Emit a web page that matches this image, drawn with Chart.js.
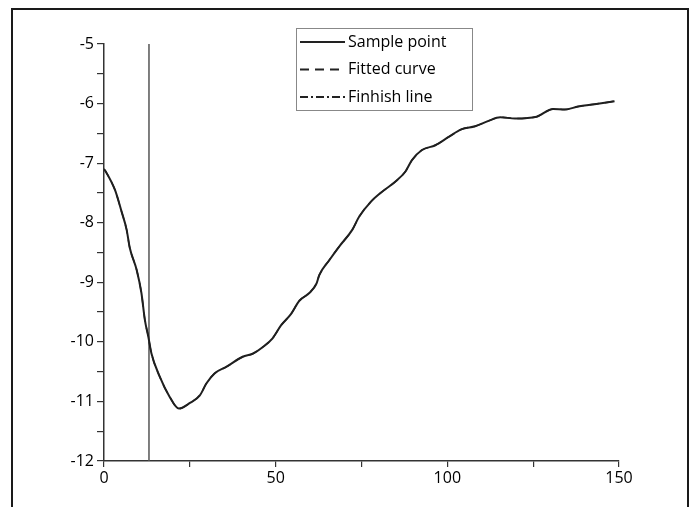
<!DOCTYPE html>
<html>
<head>
<meta charset="utf-8">
<script src="https://cdn.jsdelivr.net/npm/chart.js@4.4.0/dist/chart.umd.min.js"></script>
<style>
  html, body { margin: 0; padding: 0; background: #fff; }
  #wrap { width: 691px; height: 507px; }
</style>
</head>
<body>
<div id="wrap"><canvas id="myChart" width="691" height="507"></canvas></div>
<script>
// values
const sampleX = [0, 0.5, 3.2, 5.1, 6.6, 7.5, 9.5, 10.9, 11.9, 12.9, 13.8, 16.2, 19.1, 21.8, 24.9, 27.9, 29.8, 32.2, 35.6, 40.4,
  43.3, 46.2, 49.1, 51.6, 54.5, 56.9, 59.8, 61.9, 62.7, 65.6, 68.5, 72.3, 74.3, 77.7, 81.0, 84.9, 87.8, 89.7, 92.6, 96.5,
  100.4, 104.2, 108.1, 112.0, 115.4, 119.7, 126.0, 130.8, 134.2, 138.1, 142.9, 148.7];
const sampleY = [-7.1, -7.14, -7.45, -7.81, -8.12, -8.42, -8.79, -9.18, -9.63, -9.91, -10.19, -10.58, -10.92, -11.12, -11.03, -10.9, -10.7, -10.53, -10.42, -10.25,
  -10.2, -10.09, -9.94, -9.72, -9.53, -9.31, -9.18, -9.02, -8.88, -8.63, -8.4, -8.12, -7.9, -7.65, -7.48, -7.31, -7.14, -6.95, -6.78, -6.7,
  -6.56, -6.43, -6.38, -6.29, -6.23, -6.25, -6.22, -6.09, -6.1, -6.05, -6.01, -5.96];
const finishX = [13.1, 13.1];
const finishY = [-5, -12];
const seriesLabels = ['Sample point', 'Fitted curve', 'Finhish line'];

const toPoints = (xs, ys) => xs.map((x, i) => ({ x: x, y: ys[i] }));

// dash used for each entry of the boxed legend
const legendDash = [[], [9, 6], [8, 3, 2, 3]];

const boxLegend = {
    id: 'boxLegend',
    beforeDraw(chart) {
        const c = chart.ctx;
        c.save();
        c.strokeStyle = '#1a1a1a';
        c.lineWidth = 2;
        c.beginPath();
        c.moveTo(12, 520);
        c.lineTo(12, 9);
        c.lineTo(688, 9);
        c.lineTo(688, 520);
        c.stroke();
        c.restore();
    },
    afterDraw(chart) {
        const c = chart.ctx;
        c.save();
        c.fillStyle = '#fff';
        c.fillRect(296, 28, 177, 83);
        c.strokeStyle = '#888';
        c.lineWidth = 1;
        c.strokeRect(296.5, 28.5, 176, 82);
        c.font = '16px "Open Sans"';
        c.textBaseline = 'middle';
        seriesLabels.forEach((txt, i) => {
            const y = 42 + i * 27.5;
            c.strokeStyle = '#222';
            c.lineWidth = 2;
            c.setLineDash(legendDash[i]);
            c.beginPath();
            c.moveTo(300, y);
            c.lineTo(345, y);
            c.stroke();
            c.setLineDash([]);
            c.fillStyle = '#000';
            c.fillText(txt, 348, y);
        });
        c.restore();
    }
};

const ctx = document.getElementById('myChart').getContext('2d');
const myChart = new Chart(ctx, {
    type: 'scatter',
    data: {
        datasets: [{
            label: seriesLabels[0],
            data: toPoints(sampleX, sampleY),
            showLine: true,
            borderColor: '#1f1f1f',
            borderWidth: 2,
            pointRadius: 0,
            cubicInterpolationMode: 'monotone',
        }, {
            label: seriesLabels[1],
            data: toPoints(sampleX, sampleY),
            showLine: true,
            borderColor: '#1f1f1f',
            borderDash: [9, 6],
            borderWidth: 1.5,
            pointRadius: 0,
            cubicInterpolationMode: 'monotone',
        }, {
            label: seriesLabels[2],
            data: toPoints(finishX, finishY),
            showLine: true,
            borderColor: '#555',
            borderWidth: 1.5,
            pointRadius: 0,
        }]
    },
    options: {
        responsive: false,
        animation: false,
        layout: { padding: { left: 0, right: 72, top: 44, bottom: 0 } },
        plugins: {
            legend: { display: false },
            tooltip: { enabled: false }
        },
        scales: {
            x: {
                type: 'linear',
                min: 0,
                max: 150,
                afterFit: (s) => { s.height = 46; },
                border: { color: '#333', width: 1.5 },
                grid: { drawOnChartArea: false, color: '#333', tickLength: 6, lineWidth: 1.2 },
                ticks: {
                    stepSize: 25,
                    padding: 2,
                    color: '#000',
                    font: { family: 'Open Sans', size: 16 },
                    maxRotation: 0,
                    callback: (v) => (v % 50 === 0 ? v : '')
                }
            },
            y: {
                type: 'linear',
                min: -12,
                max: -5,
                afterFit: (s) => { s.width = 104; },
                border: { color: '#333', width: 1.5 },
                grid: { drawOnChartArea: false, color: '#333', tickLength: 7, lineWidth: 1.2 },
                ticks: {
                    stepSize: 0.5,
                    padding: 3,
                    color: '#000',
                    font: { family: 'Open Sans', size: 16 },
                    callback: (v) => (Number.isInteger(v) ? v : '')
                }
            }
        }
    },
    plugins: [boxLegend]
});
</script>
</body>
</html>
